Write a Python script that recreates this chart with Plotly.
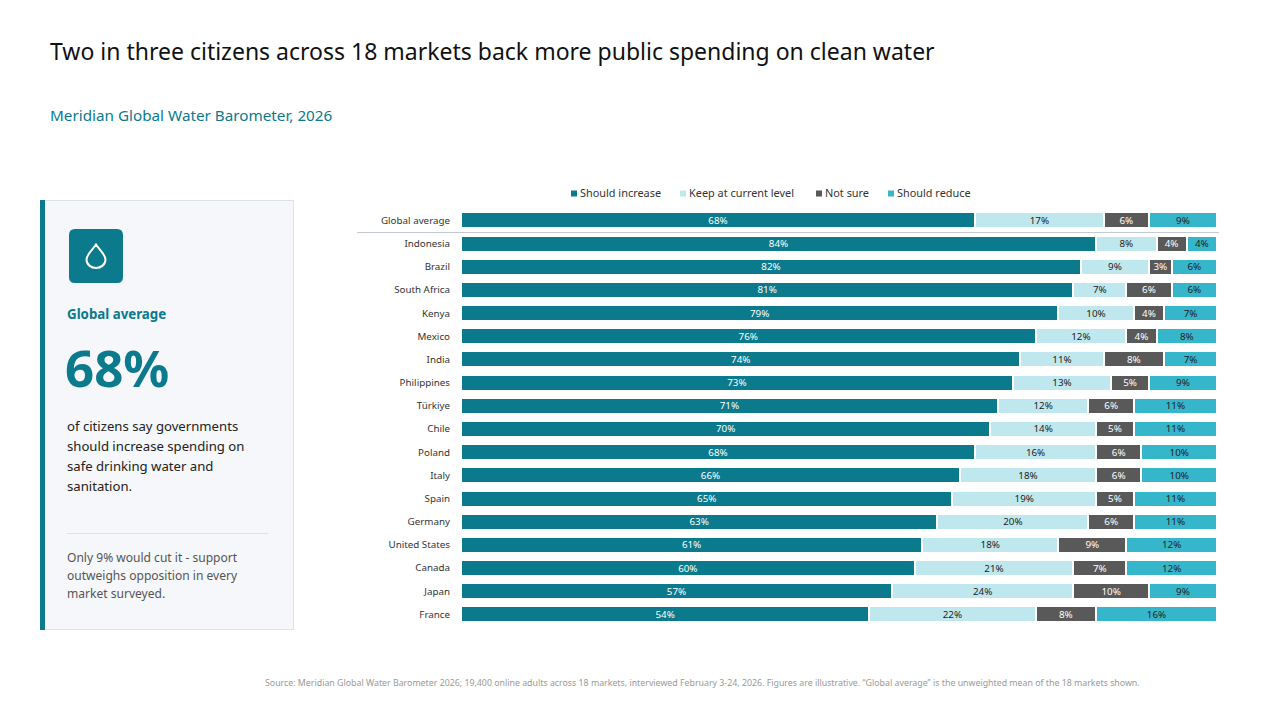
import plotly.graph_objects as go

# Survey results, share of respondents per market (%)
markets = ["Global average", "Indonesia", "Brazil", "South Africa", "Kenya", "Mexico", "India",
           "Philippines", "Türkiye", "Chile", "Poland", "Italy", "Spain", "Germany",
           "United States", "Canada", "Japan", "France"]
should_increase = [68, 84, 82, 81, 79, 76, 74, 73, 71, 70, 68, 66, 65, 63, 61, 60, 57, 54]
keep_current = [17, 8, 9, 7, 10, 12, 11, 13, 12, 14, 16, 18, 19, 20, 18, 21, 24, 22]
not_sure = [6, 4, 3, 6, 4, 4, 8, 5, 6, 5, 6, 6, 5, 6, 9, 7, 10, 8]
should_reduce = [9, 4, 6, 6, 7, 8, 7, 9, 11, 11, 10, 10, 11, 11, 12, 12, 9, 16]

series_names = ["Should increase", "Keep at current level", "Not sure", "Should reduce"]
series_values = [should_increase, keep_current, not_sure, should_reduce]

TEAL = "#0A7A8C"
PALE = "#BFE8EE"
GREY = "#595959"
CYAN = "#35B6CB"
bar_colors = [TEAL, PALE, GREY, CYAN]
label_colors = ["#FFFFFF", "#222222", "#FFFFFF", "#222222"]
FONT = "Noto Sans"
W, H = 1280, 720


def fx(x):
    return x / W


def fy(y):
    return 1 - y / H


def text(x, y, s, size, color, anchor="left", bold=False):
    return dict(x=fx(x), y=fy(y), xref="paper", yref="paper", text=f"<b>{s}</b>" if bold else s,
                showarrow=False, xanchor=anchor, yanchor="middle", align=anchor,
                font=dict(family=FONT, size=size, color=color))


def box(x0, y0, x1, y1, fill, line=None, width=0):
    return dict(type="rect", xref="paper", yref="paper", x0=fx(x0), x1=fx(x1), y0=fy(y0), y1=fy(y1),
                fillcolor=fill, line=dict(color=line or fill, width=width), layer="below")


def rule(x0, y0, x1, y1, color):
    return dict(type="line", xref="paper", yref="paper", x0=fx(x0), x1=fx(x1), y0=fy(y0), y1=fy(y1),
                line=dict(color=color, width=1))


def svg_path(points, **style):
    # Each entry is a command followed by pixel pairs, converted to paper coordinates
    parts = []
    for cmd, *coords in points:
        pairs = [f"{fx(coords[i]):.5f},{fy(coords[i + 1]):.5f}" for i in range(0, len(coords), 2)]
        parts.append(cmd + " " + " ".join(pairs))
    return dict(type="path", xref="paper", yref="paper", path=" ".join(parts) + " Z", **style)


fig = go.Figure()
for name, values, color, label_color in zip(series_names, series_values, bar_colors, label_colors):
    fig.add_trace(go.Bar(
        y=markets, x=values, name=name, orientation="h", width=0.69,
        marker=dict(color=color, line=dict(color="#FFFFFF", width=2)),
        texttemplate="%{x}%", textposition="inside", insidetextanchor="middle", textangle=0,
        insidetextfont=dict(family=FONT, size=9.8, color=label_color),
        constraintext="none", showlegend=False, hoverinfo="skip",
    ))

shapes = [
    box(40.5, 200.5, 293.5, 629.5, "#F5F7FA", "#DDE2E8", 1),
    box(40, 200, 45, 630, TEAL),
    rule(67, 533.5, 268, 533.5, "#DDE2E8"),
    rule(357, 232.5, 1219, 232.5, "#C3CAD2"),
    # Rounded icon tile
    svg_path([("M", 75, 229), ("L", 117, 229), ("Q", 123, 229, 123, 235), ("L", 123, 277),
              ("Q", 123, 283, 117, 283), ("L", 75, 283), ("Q", 69, 283, 69, 277), ("L", 69, 235),
              ("Q", 69, 229, 75, 229)], fillcolor=TEAL, line=dict(width=0)),
    # Water drop outline
    svg_path([("M", 96, 244.5), ("C", 92.5, 250, 86.5, 254.5, 86.5, 259.5),
              ("C", 86.5, 264.5, 91, 268, 96, 268), ("C", 101, 268, 105.5, 264.5, 105.5, 259.5),
              ("C", 105.5, 254.5, 99.5, 250, 96, 244.5)],
             fillcolor="rgba(0,0,0,0)", line=dict(color="#FFFFFF", width=2)),
]

annotations = [
    text(48, 51.5, "Two in three citizens across 18 markets back more public spending on clean water", 23, "#111111"),
    text(48, 115.5, "Meridian Global Water Barometer, 2026", 15.25, TEAL),
    text(65, 314, "Global average", 13.3, TEAL, bold=True),
    text(63, 366.5, "68%", 51, TEAL, bold=True),
    text(702, 682.5, "Source: Meridian Global Water Barometer 2026; 19,400 online adults across 18 markets, "
                     "interviewed February 3-24, 2026. Figures are illustrative. “Global average” is the "
                     "unweighted mean of the 18 markets shown.", 8.8, "#999999", anchor="center"),
]
body_lines = ["of citizens say governments", "should increase spending on", "safe drinking water and", "sanitation."]
for line, y in zip(body_lines, [426, 446, 466, 486]):
    annotations.append(text(65, y, line, 13.15, "#222222"))
note_lines = ["Only 9% would cut it - support", "outweighs opposition in every", "market surveyed."]
for line, y in zip(note_lines, [557, 575.5, 593.5]):
    annotations.append(text(65, y, line, 12.05, "#555555"))

# Compact legend row above the bars
legend_x = [571, 680, 816, 888]
for name, color, x in zip(series_names, bar_colors, legend_x):
    shapes.append(box(x, 190.5, x + 6, 196.5, color))
    annotations.append(text(x + 7, 193, name, 10.9, "#333333"))

fig.update_layout(
    width=W, height=H, barmode="stack", bargap=0.31,
    margin=dict(l=0, r=0, t=0, b=0), paper_bgcolor="#FFFFFF", plot_bgcolor="rgba(0,0,0,0)",
    font=dict(family=FONT), shapes=shapes, annotations=annotations,
    xaxis=dict(domain=[fx(461), fx(1217)], range=[0, 100], visible=False, fixedrange=True),
    yaxis=dict(domain=[fy(626), fy(208.8)], autorange="reversed", type="category",
               tickfont=dict(family=FONT, size=9.8, color="#333333"), showline=False, showgrid=False,
               ticks="outside", ticklen=8, tickcolor="rgba(0,0,0,0)", fixedrange=True),
)
fig.write_html("out.html", config=dict(displayModeBar=False))
